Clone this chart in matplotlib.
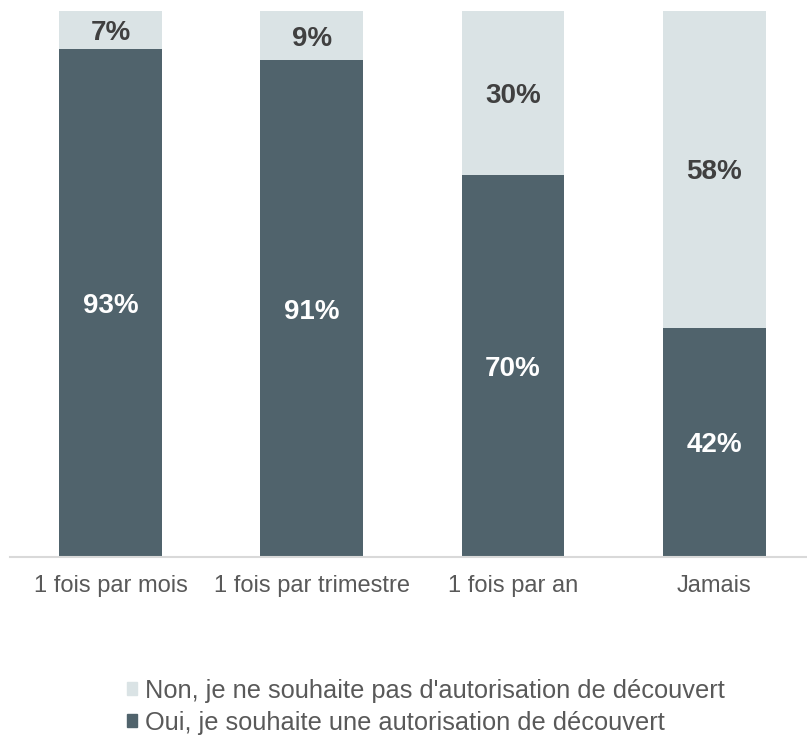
import matplotlib
matplotlib.use("Agg")
import matplotlib.pyplot as plt
from matplotlib.patches import Patch

plt.rcParams['font.family'] = ['Liberation Sans', 'DejaVu Sans']

categories = ["1 fois par mois", "1 fois par trimestre", "1 fois par an", "Jamais"]
oui = [93, 91, 70, 42]
non = [7, 9, 30, 58]
label_oui = "Oui, je souhaite une autorisation de découvert"
label_non = "Non, je ne souhaite pas d'autorisation de découvert"

c_dark = "#50636C"
c_light = "#DAE3E5"

fig = plt.figure(figsize=(8.07, 7.42), dpi=100)
ax = fig.add_axes([10/807, (742-557)/742, 797/807, 546/742])

x = list(range(len(categories)))
w = 0.51
ax.bar(x, oui, width=w, color=c_dark, zorder=2)
ax.bar(x, non, width=w, bottom=oui, color=c_light, zorder=2)

for i in x:
    ax.text(i, oui[i]/2, f"{oui[i]}%", ha='center', va='center_baseline', color='white',
            fontsize=20, fontweight='bold')
    ax.text(i, oui[i] + non[i]/2, f"{non[i]}%", ha='center', va='center_baseline', color='#404040',
            fontsize=20, fontweight='bold')

ax.set_xlim(-0.499, 3.46)
ax.set_ylim(0, 100)
ax.set_yticks([])
ax.set_xticks(x)
ax.set_xticklabels(categories, fontsize=17, color='#595959')
ax.tick_params(axis='x', length=0, pad=13)
for s in ['top', 'right', 'left']:
    ax.spines[s].set_visible(False)
ax.spines['bottom'].set_color('#D9D9D9')
ax.spines['bottom'].set_linewidth(1.5)

handles = [Patch(color=c_light), Patch(color=c_dark)]
fig.legend(handles, [label_non, label_oui], loc='upper left',
           bbox_to_anchor=(127/807, 1 - 679/742), frameon=False,
           fontsize=18.3, labelcolor='#595959', handlelength=0.4, handleheight=0.4,
           handletextpad=0.3, labelspacing=0.3, borderpad=0, borderaxespad=0)

fig.savefig("out.png", dpi=100)
